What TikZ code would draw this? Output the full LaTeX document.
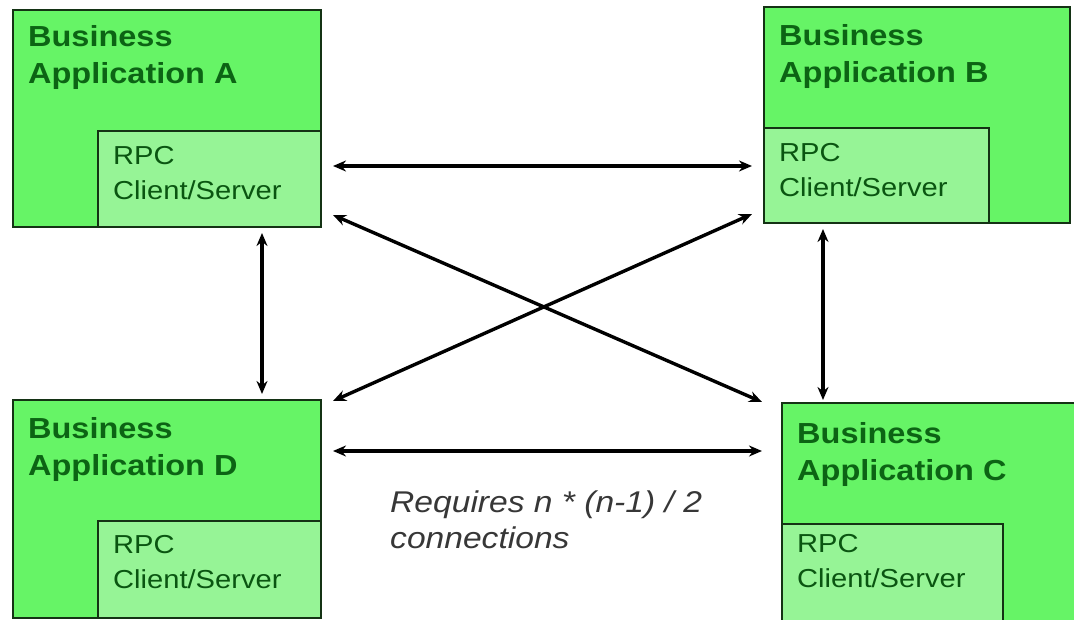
\documentclass[tikz,border=0pt]{standalone}
\usepackage{fontspec}
\setmainfont[FakeStretch=1.12]{Liberation Sans}
\usetikzlibrary{arrows.meta,calc}
\definecolor{outerfill}{RGB}{102,244,102}
\definecolor{innerfill}{RGB}{150,244,150}
\definecolor{boxline}{RGB}{20,50,20}
\definecolor{titlegreen}{RGB}{12,100,20}
\definecolor{notegray}{RGB}{55,55,55}
\tikzset{
  outerbox/.style={draw=boxline, line width=2.4pt, fill=outerfill, rectangle, anchor=north west, inner sep=0pt, outer sep=0pt},
  innerbox/.style={draw=boxline, line width=2.4pt, fill=innerfill, rectangle, anchor=north west, inner sep=0pt, outer sep=0pt},
  titletext/.style={anchor=base west, inner sep=0pt, align=left, text=titlegreen, font=\fontsize{29}{37}\selectfont\bfseries},
  rpctext/.style={anchor=base west, inner sep=0pt, align=left, text=titlegreen!85!black, font=\fontsize{26}{35}\selectfont},
  notetext/.style={anchor=base west, inner sep=0pt, align=left, text=notegray, font=\fontsize{30}{36}\selectfont\itshape},
  conn/.style={line width=3.4pt, black, {Stealth[length=13pt,width=11pt]}-{Stealth[length=13pt,width=11pt]}}
}
\begin{document}
\begin{tikzpicture}[x=1pt,y=-1pt]
\useasboundingbox[fill=white] (0,0) rectangle (1074,620);
% Boxes
\node[outerbox, minimum width=308pt, minimum height=217pt] (A) at (13,10) {};
\node[innerbox, minimum width=223pt, minimum height=96pt] (Ai) at (98,131) {};
\node[outerbox, minimum width=306pt, minimum height=216pt] (B) at (764,7) {};
\node[innerbox, minimum width=225pt, minimum height=95pt] (Bi) at (764,128) {};
\node[outerbox, minimum width=308pt, minimum height=218pt] (D) at (13,400) {};
\node[innerbox, minimum width=223pt, minimum height=97pt] (Di) at (98,521) {};
\node[outerbox, minimum width=300pt, minimum height=225pt] (C) at (782,403) {};
\node[innerbox, minimum width=221pt, minimum height=104pt] (Ci) at (782,524) {};
% Texts (base anchor = baseline of last line)
\node[titletext] (At) at (28,84) {Business\\Application A};
\node[rpctext] (Ar) at (113,200) {RPC\\Client/Server};
\node[titletext] (Bt) at (779,83) {Business\\Application B};
\node[rpctext] (Br) at (779,197) {RPC\\Client/Server};
\node[titletext] (Dt) at (28,475) {Business\\Application D};
\node[rpctext] (Dr) at (113,588) {RPC\\Client/Server};
\node[titletext] (Ct) at (797,480) {Business\\Application C};
\node[rpctext] (Cr) at (797,587) {RPC\\Client/Server};
\node[notetext] (note) at (390,548) {Requires n * (n-1) / 2\\connections};
% Connectors
\draw[conn] ($(A.north east)+(12,156)$) -- ($(B.north west)+(-12,159)$);
\draw[conn] ($(A.south east)+(12,-12)$) -- ($(C.north west)+(-20,-1)$);
\draw[conn] ($(D.north east)+(12,1)$) -- ($(Bi.south west)+(-12,-9)$);
\draw[conn] ($(A.south east)+(-59,6)$) -- ($(D.north east)+(-59,-6)$);
\draw[conn] ($(B.south west)+(59,6)$) -- ($(C.north west)+(41,-3)$);
\draw[conn] ($(D.north east)+(12,51)$) -- ($(C.north west)+(-20,48)$);
\end{tikzpicture}
\end{document}
